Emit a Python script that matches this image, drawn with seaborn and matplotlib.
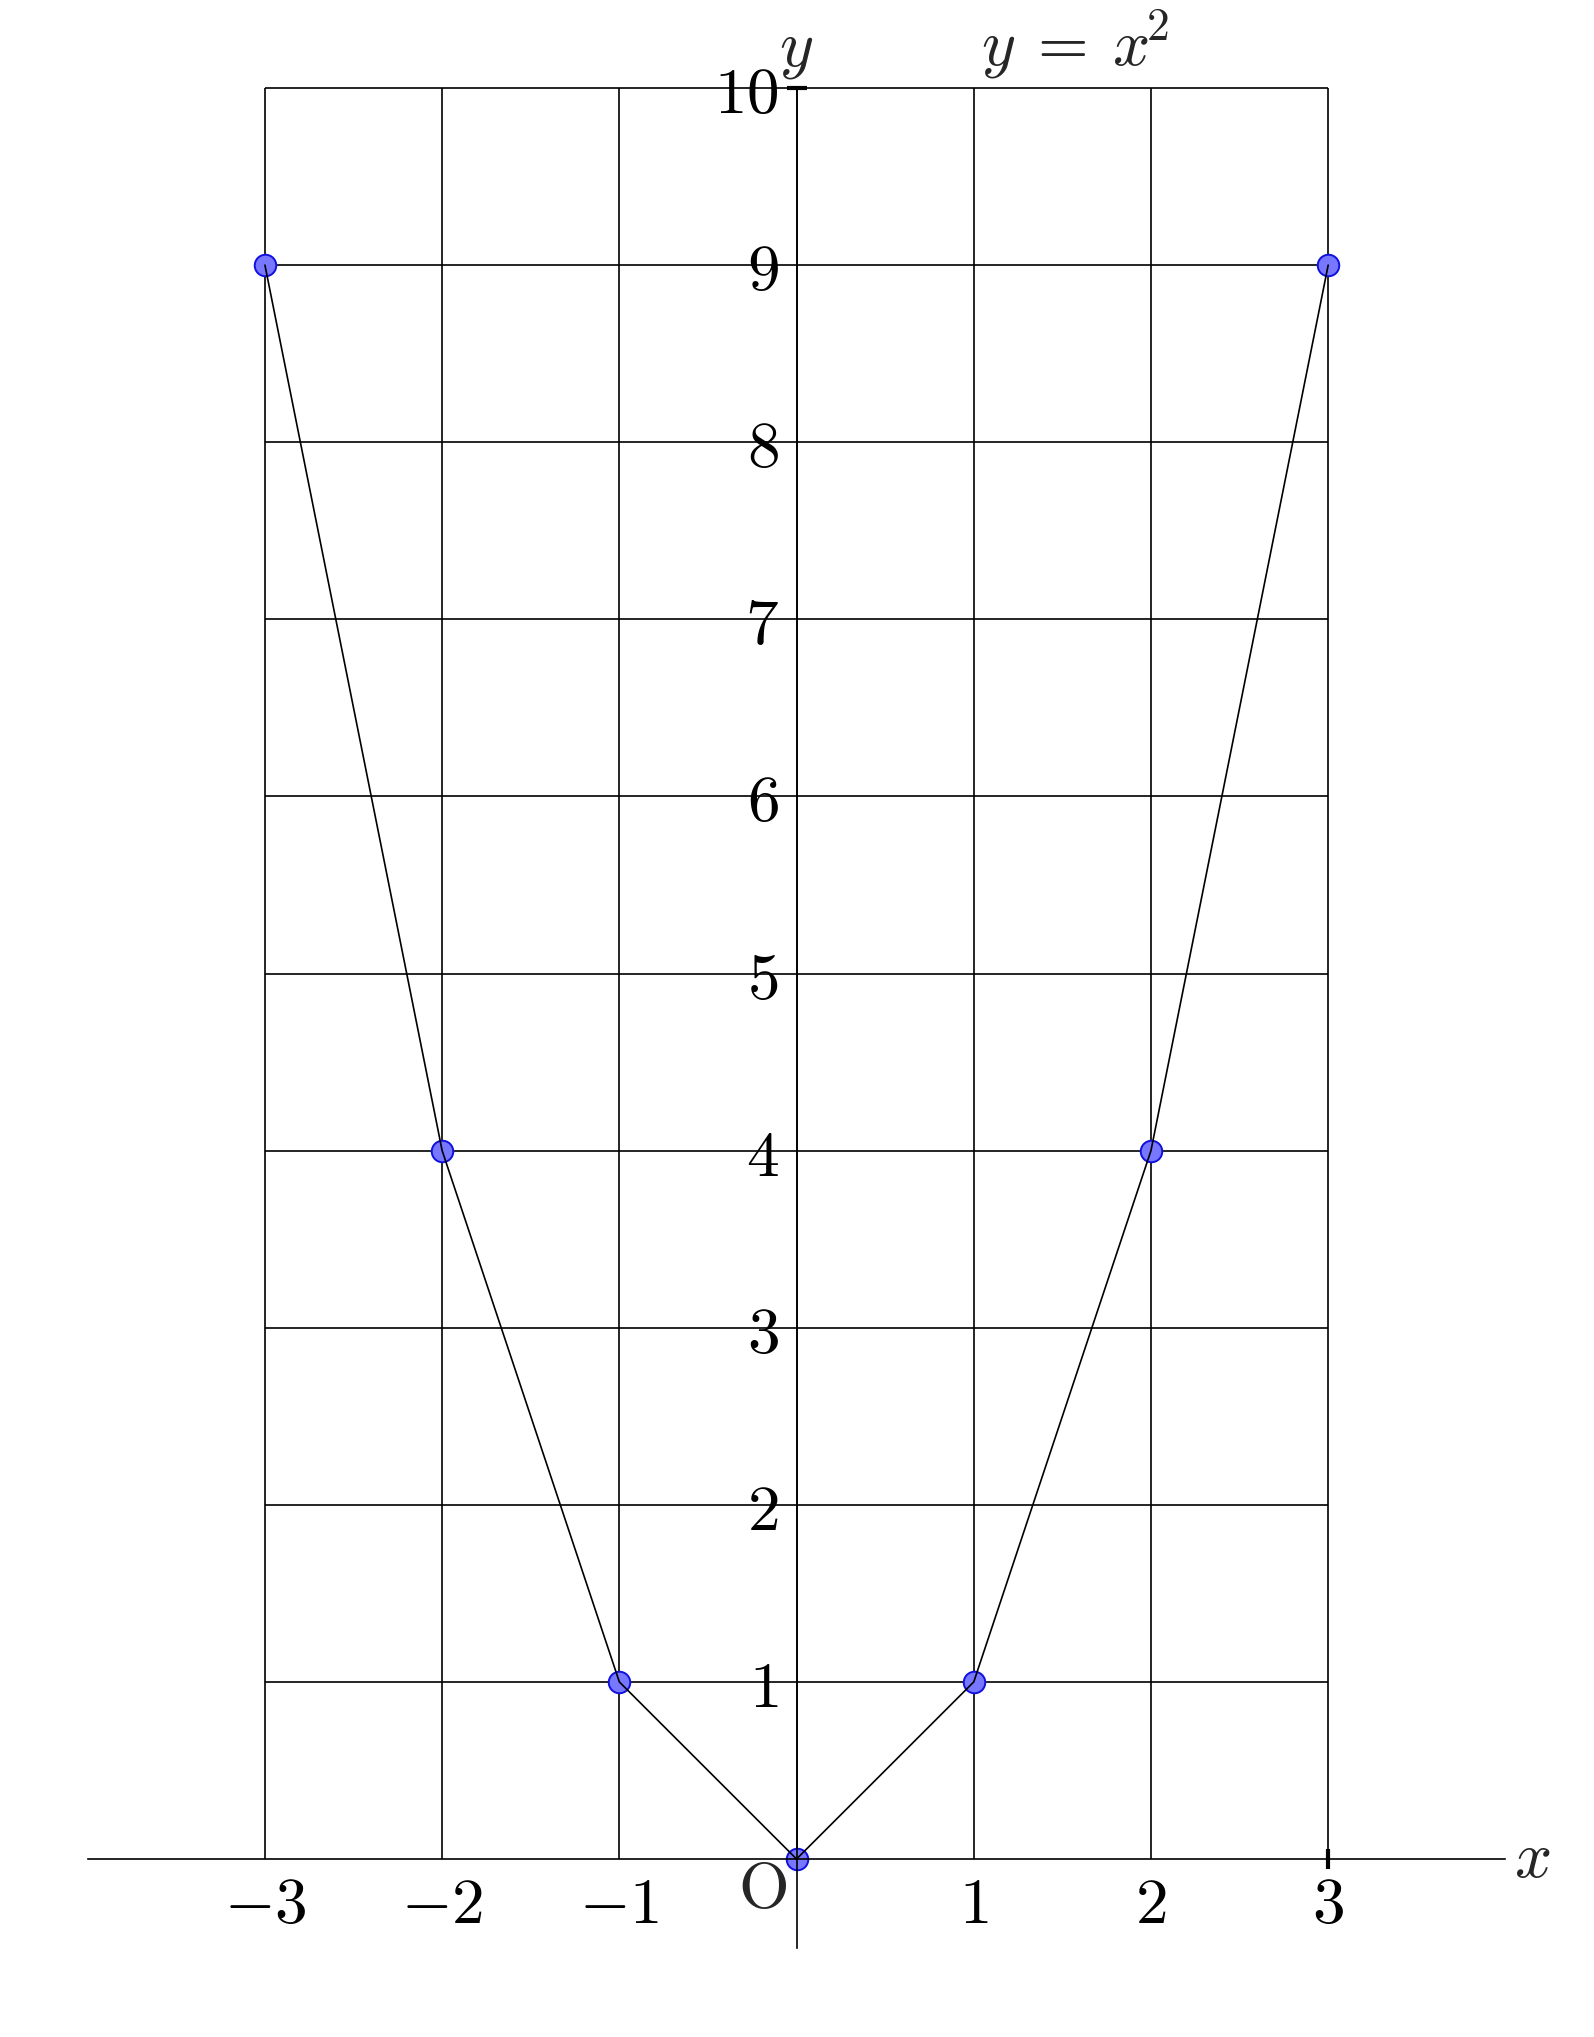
import matplotlib
matplotlib.use("Agg")
import matplotlib.pyplot as plt
import seaborn as sns

# Data: points of y = x^2
x_vals = [-3, -2, -1, 0, 1, 2, 3]
y_vals = [9, 4, 1, 0, 1, 4, 9]

# Grid positions and tick labels
grid_x = [-3, -2, -1, 0, 1, 2, 3]
grid_y = [1, 2, 3, 4, 5, 6, 7, 8, 9, 10]
xtick_pos = [-3, -2, -1, 1, 2, 3]
xtick_labels = [r"$-3$", r"$-2$", r"$-1$", r"$1$", r"$2$", r"$3$"]
ytick_pos = [1, 2, 3, 4, 5, 6, 7, 8, 9, 10]
ytick_labels = [r"$%d$" % v for v in ytick_pos]


def draw_chart():
  sns.set_style("white")
  plt.rcParams["mathtext.fontset"] = "cm"
  plt.rcParams["font.family"] = ["DejaVu Sans"]

  fig = plt.figure(figsize=(15.94, 20.37), dpi=100)
  ax = fig.add_axes([0, 0, 1, 1])
  ax.set_facecolor("white")

  # grid (only inside the -3..3 x 0..10 box)
  ax.vlines(grid_x, 0, 10, colors="black", linewidth=1.2, zorder=1)
  ax.hlines(grid_y, -3, 3, colors="black", linewidth=1.2, zorder=1)

  # points and the polyline through them
  sns.scatterplot(x=x_vals, y=y_vals, s=240, color="#7777ff", edgecolor="#1010e0",
                  linewidth=1.4, zorder=2, ax=ax, legend=False)
  sns.lineplot(x=x_vals, y=y_vals, color="black", linewidth=1.2, zorder=3, ax=ax,
               sort=False, estimator=None)

  ax.set_xlim(-4.495, 4.5)
  ax.set_ylim(-1.005, 10.497)
  ax.set_aspect("auto")

  # axes through the origin
  for side in ["top", "right"]:
    ax.spines[side].set_visible(False)
  ax.spines["bottom"].set_position(("data", 0))
  ax.spines["left"].set_position(("data", 0))
  ax.spines["bottom"].set_bounds(-4, 4)
  ax.spines["left"].set_bounds(-0.5, 10)
  for side in ["bottom", "left"]:
    ax.spines[side].set_color("black")
    ax.spines[side].set_linewidth(1.2)
    ax.spines[side].set_zorder(3)

  ax.set_xticks(xtick_pos)
  ax.set_xticklabels(xtick_labels)
  ax.set_yticks(ytick_pos)
  ax.set_yticklabels(ytick_labels)
  ax.tick_params(axis="x", which="major", length=0, labelsize=47, pad=10, colors="black")
  ax.tick_params(axis="y", which="major", length=0, labelsize=47, pad=13, colors="black")

  # short thick marks at the ends (seaborn white style turns ticks off)
  ax.xaxis.remove_overlapping_locs = False
  ax.yaxis.remove_overlapping_locs = False
  ax.set_xticks([3], minor=True)
  ax.set_yticks([10], minor=True)
  ax.tick_params(axis="both", which="both", bottom=True, left=True)
  ax.tick_params(axis="both", which="minor", length=14, width=3, direction="inout", colors="black")

  # labels
  ax.text(-0.19, -0.175, r"$\mathrm{O}$", fontsize=47, ha="center", va="center")
  ax.text(4.05, 0, r"$x$", fontsize=47, ha="left", va="center")
  ax.text(0, 10.04, r"$y$", fontsize=47, ha="center", va="bottom")
  ax.text(1.57, 10.04, r"$y\:=\:x^{\!2}$", fontsize=47, ha="center", va="bottom")

  ax.set_xlabel("")
  ax.set_ylabel("")
  plt.savefig("out.png", dpi=100, facecolor="white")


if __name__ == "__main__":
  draw_chart()
